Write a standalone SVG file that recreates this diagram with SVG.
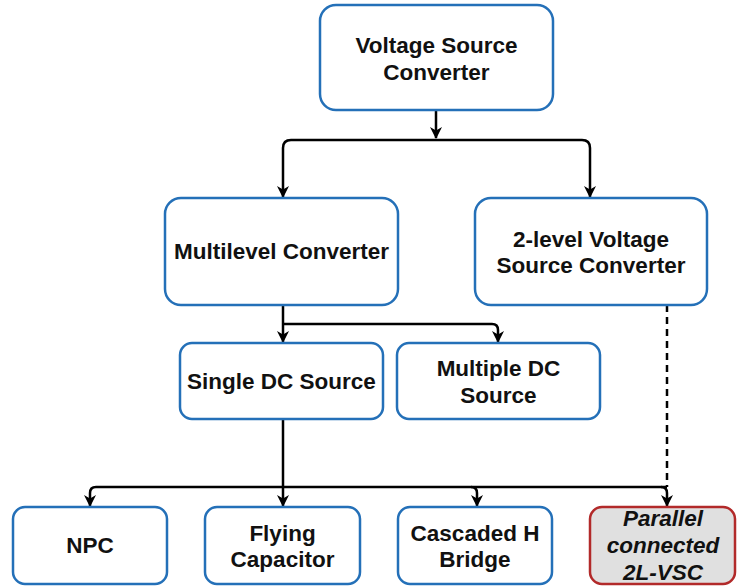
<svg xmlns="http://www.w3.org/2000/svg" width="737" height="586" viewBox="0 0 737 586">
<style>
.box{fill:#ffffff;stroke:#2470b8;stroke-width:2.5}
.red{fill:#e0e0e0;stroke:#b22a2a;stroke-width:2.5}
.t{font-family:"Liberation Sans",Arial,sans-serif;font-weight:bold;font-size:22.5px;fill:#111;text-anchor:middle}
.i{font-style:italic}
.c{fill:none;stroke:#000;stroke-width:2.5;stroke-linejoin:round}
.d{stroke-dasharray:7,5}
</style>
<defs>
<marker id="ah" viewBox="0 0 12 12" refX="11" refY="6" markerWidth="12" markerHeight="12" markerUnits="userSpaceOnUse" orient="auto">
<path d="M0,0 L12,6 L0,12 L3.5,6 Z" fill="#000"/>
</marker>
</defs>
<g id="connectors">
<path class="c" d="M436,110 V138" marker-end="url(#ah)"/>
<path class="c" d="M436,140 H291 Q283,140 283,148 V197" marker-end="url(#ah)"/>
<path class="c" d="M436,140 H582 Q590,140 590,148 V197" marker-end="url(#ah)"/>
<path class="c" d="M283,305 V342" marker-end="url(#ah)"/>
<path class="c" d="M283,324 H492 Q498,324 498,330 V342" marker-end="url(#ah)"/>
<path class="c" d="M283,419 V506" marker-end="url(#ah)"/>
<path class="c" d="M667,487 H96 Q90,487 90,493 V506" marker-end="url(#ah)"/>
<path class="c" d="M471,487 Q477,487 477,493 V506" marker-end="url(#ah)"/>
<path class="c" d="M661,487 Q667,487 667,493 V506" marker-end="url(#ah)"/>
<path class="c d" d="M667,305 V487"/>
</g>
<g id="vsc"><rect class="box" x="320" y="5" width="233" height="105" rx="16"/>
<text class="t" x="436.5" y="53">Voltage Source</text><text class="t" x="436.5" y="80">Converter</text></g>
<g id="multilevel"><rect class="box" x="165" y="198" width="233" height="107" rx="16"/>
<text class="t" x="281.5" y="259">Multilevel Converter</text></g>
<g id="twolevel"><rect class="box" x="475" y="198" width="232" height="107" rx="16"/>
<text class="t" x="591" y="247">2-level Voltage</text><text class="t" x="591" y="273">Source Converter</text></g>
<g id="single"><rect class="box" x="180" y="343" width="203" height="76" rx="12"/>
<text class="t" x="281.5" y="389">Single DC Source</text></g>
<g id="multiple"><rect class="box" x="397" y="343" width="203" height="76" rx="12"/>
<text class="t" x="498.5" y="376">Multiple DC</text><text class="t" x="498.5" y="403">Source</text></g>
<g id="npc"><rect class="box" x="13" y="507" width="154" height="77" rx="12"/>
<text class="t" x="90" y="553">NPC</text></g>
<g id="flying"><rect class="box" x="205" y="507" width="155" height="77" rx="12"/>
<text class="t" x="282.5" y="541">Flying</text><text class="t" x="282.5" y="567">Capacitor</text></g>
<g id="cascaded"><rect class="box" x="398" y="507" width="154" height="77" rx="12"/>
<text class="t" x="475" y="541">Cascaded H</text><text class="t" x="475" y="567">Bridge</text></g>
<g id="parallel"><rect class="red" x="590" y="507" width="145" height="77" rx="12"/>
<text class="t i" x="663" y="526">Parallel</text><text class="t i" x="663" y="553">connected</text><text class="t i" x="663" y="580">2L-VSC</text></g>
</svg>
